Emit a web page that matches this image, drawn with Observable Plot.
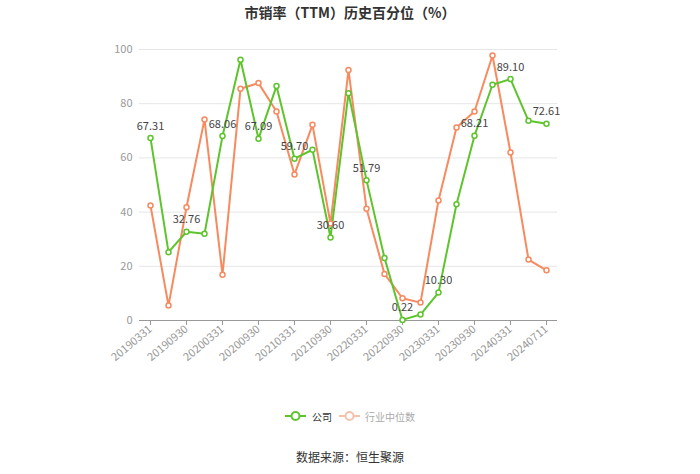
<!DOCTYPE html>
<html>
<head>
<meta charset="utf-8">
<script src="https://cdn.jsdelivr.net/npm/d3@7"></script>
<script src="https://cdn.jsdelivr.net/npm/@observablehq/plot@0.6"></script>
<style>
  html, body { margin: 0; padding: 0; background: #fff; }
  body { width: 700px; height: 474px; position: relative; overflow: hidden; font-family: "Noto Sans CJK SC", "Noto Sans", sans-serif; }
  #title { position: absolute; top: 2px; left: 0; width: 700px; text-align: center; font-size: 14px; font-weight: bold; color: #333; }
  #chart { position: absolute; top: 30px; left: 0; }
  #legend { position: absolute; top: 407px; left: 0; width: 700px; font-size: 10px; }
  .item { position: absolute; top: 0; display: flex; align-items: center; height: 18px; }
  #source { position: absolute; top: 448px; left: 0; width: 700px; text-align: center; font-size: 12px; color: #333; }
</style>
</head>
<body>
<div id="title">市销率（TTM）历史百分位（%）</div>
<div id="chart"></div>
<div id="legend">
  <div class="item" style="left:285px;">
    <svg width="21" height="18"><line x1="0" y1="9" x2="21" y2="9" stroke="#5ec42d" stroke-width="2"/><circle cx="10.5" cy="9" r="4" fill="#fff" stroke="#5ec42d" stroke-width="2"/></svg>
    <span style="margin-left:6px;color:#333;">公司</span>
  </div>
  <div class="item" style="left:339px;">
    <svg width="21" height="18"><line x1="0" y1="9" x2="21" y2="9" stroke="#f6c2ab" stroke-width="2"/><circle cx="10.5" cy="9" r="4" fill="#fff" stroke="#f6c2ab" stroke-width="2"/></svg>
    <span style="margin-left:5px;color:#aaa;">行业中位数</span>
  </div>
</div>
<div id="source">数据来源：恒生聚源</div>
<script>
const dates = ["20190331","20190630","20190930","20191231","20200331","20200630","20200930","20201231","20210331","20210630","20210930","20211231","20220331","20220630","20220930","20221231","20230331","20230630","20230930","20231231","20240331","20240630","20240711"];
const company = [67.31,25.2,32.76,32.0,68.06,96.2,67.09,86.5,59.70,63.0,30.60,83.9,51.79,23.1,0.22,2.2,10.30,42.9,68.21,87.0,89.10,73.7,72.61];
const industry = [42.4,5.5,41.8,74.2,16.9,85.5,87.6,77.1,53.9,72.2,35.8,92.4,41.2,17.2,8.2,6.6,44.3,71.2,77.1,97.8,62.0,22.5,18.5];
const labelIdx = [0,2,4,6,8,10,12,14,16,18,20,22];
const yTicks = [0,20,40,60,80,100];

const GREEN = "#5ec42d";
const ORANGE = "#f78a5f";

const comp = dates.map((d, i) => ({date: d, value: company[i], i}));
const ind = dates.map((d, i) => ({date: d, value: industry[i], i}));
const labels = comp.filter(d => labelIdx.includes(d.i));

const chart = Plot.plot({
  width: 700,
  height: 360,
  marginLeft: 139,
  marginRight: 143,
  marginTop: 19,
  marginBottom: 70,
  style: {fontFamily: "'Noto Sans CJK SC', 'Noto Sans', sans-serif", fontSize: "11px", background: "transparent"},
  x: {type: "point", domain: dates, padding: 0.5, label: null},
  y: {domain: [0, 100], label: null},
  marks: [
    Plot.gridY(yTicks, {stroke: "#e6e6e6", strokeOpacity: 1}),
    Plot.axisY(yTicks, {tickSize: 0, tickPadding: 7, color: "#999", fontSize: 11, label: null}),
    Plot.ruleY([0], {stroke: "#999"}),
    Plot.axisX(dates.filter((d, i) => i % 2 === 0), {tickRotate: -40, tickSize: 5, tickPadding: 2, stroke: "#999", color: "#999", fontSize: 11, label: null}),
    Plot.lineY(ind, {x: "date", y: "value", stroke: ORANGE, strokeWidth: 2}),
    Plot.lineY(comp, {x: "date", y: "value", stroke: GREEN, strokeWidth: 2}),
    Plot.dot(ind, {x: "date", y: "value", r: 2.5, fill: "#fff", stroke: ORANGE, strokeWidth: 1.5}),
    Plot.dot(comp, {x: "date", y: "value", r: 2.5, fill: "#fff", stroke: GREEN, strokeWidth: 1.5}),
    Plot.text(labels, {x: "date", y: "value", text: d => d.value.toFixed(2), dy: -12, fill: "#444", fontSize: 11})
  ]
});
document.getElementById("chart").appendChild(chart);
</script>
</body>
</html>
